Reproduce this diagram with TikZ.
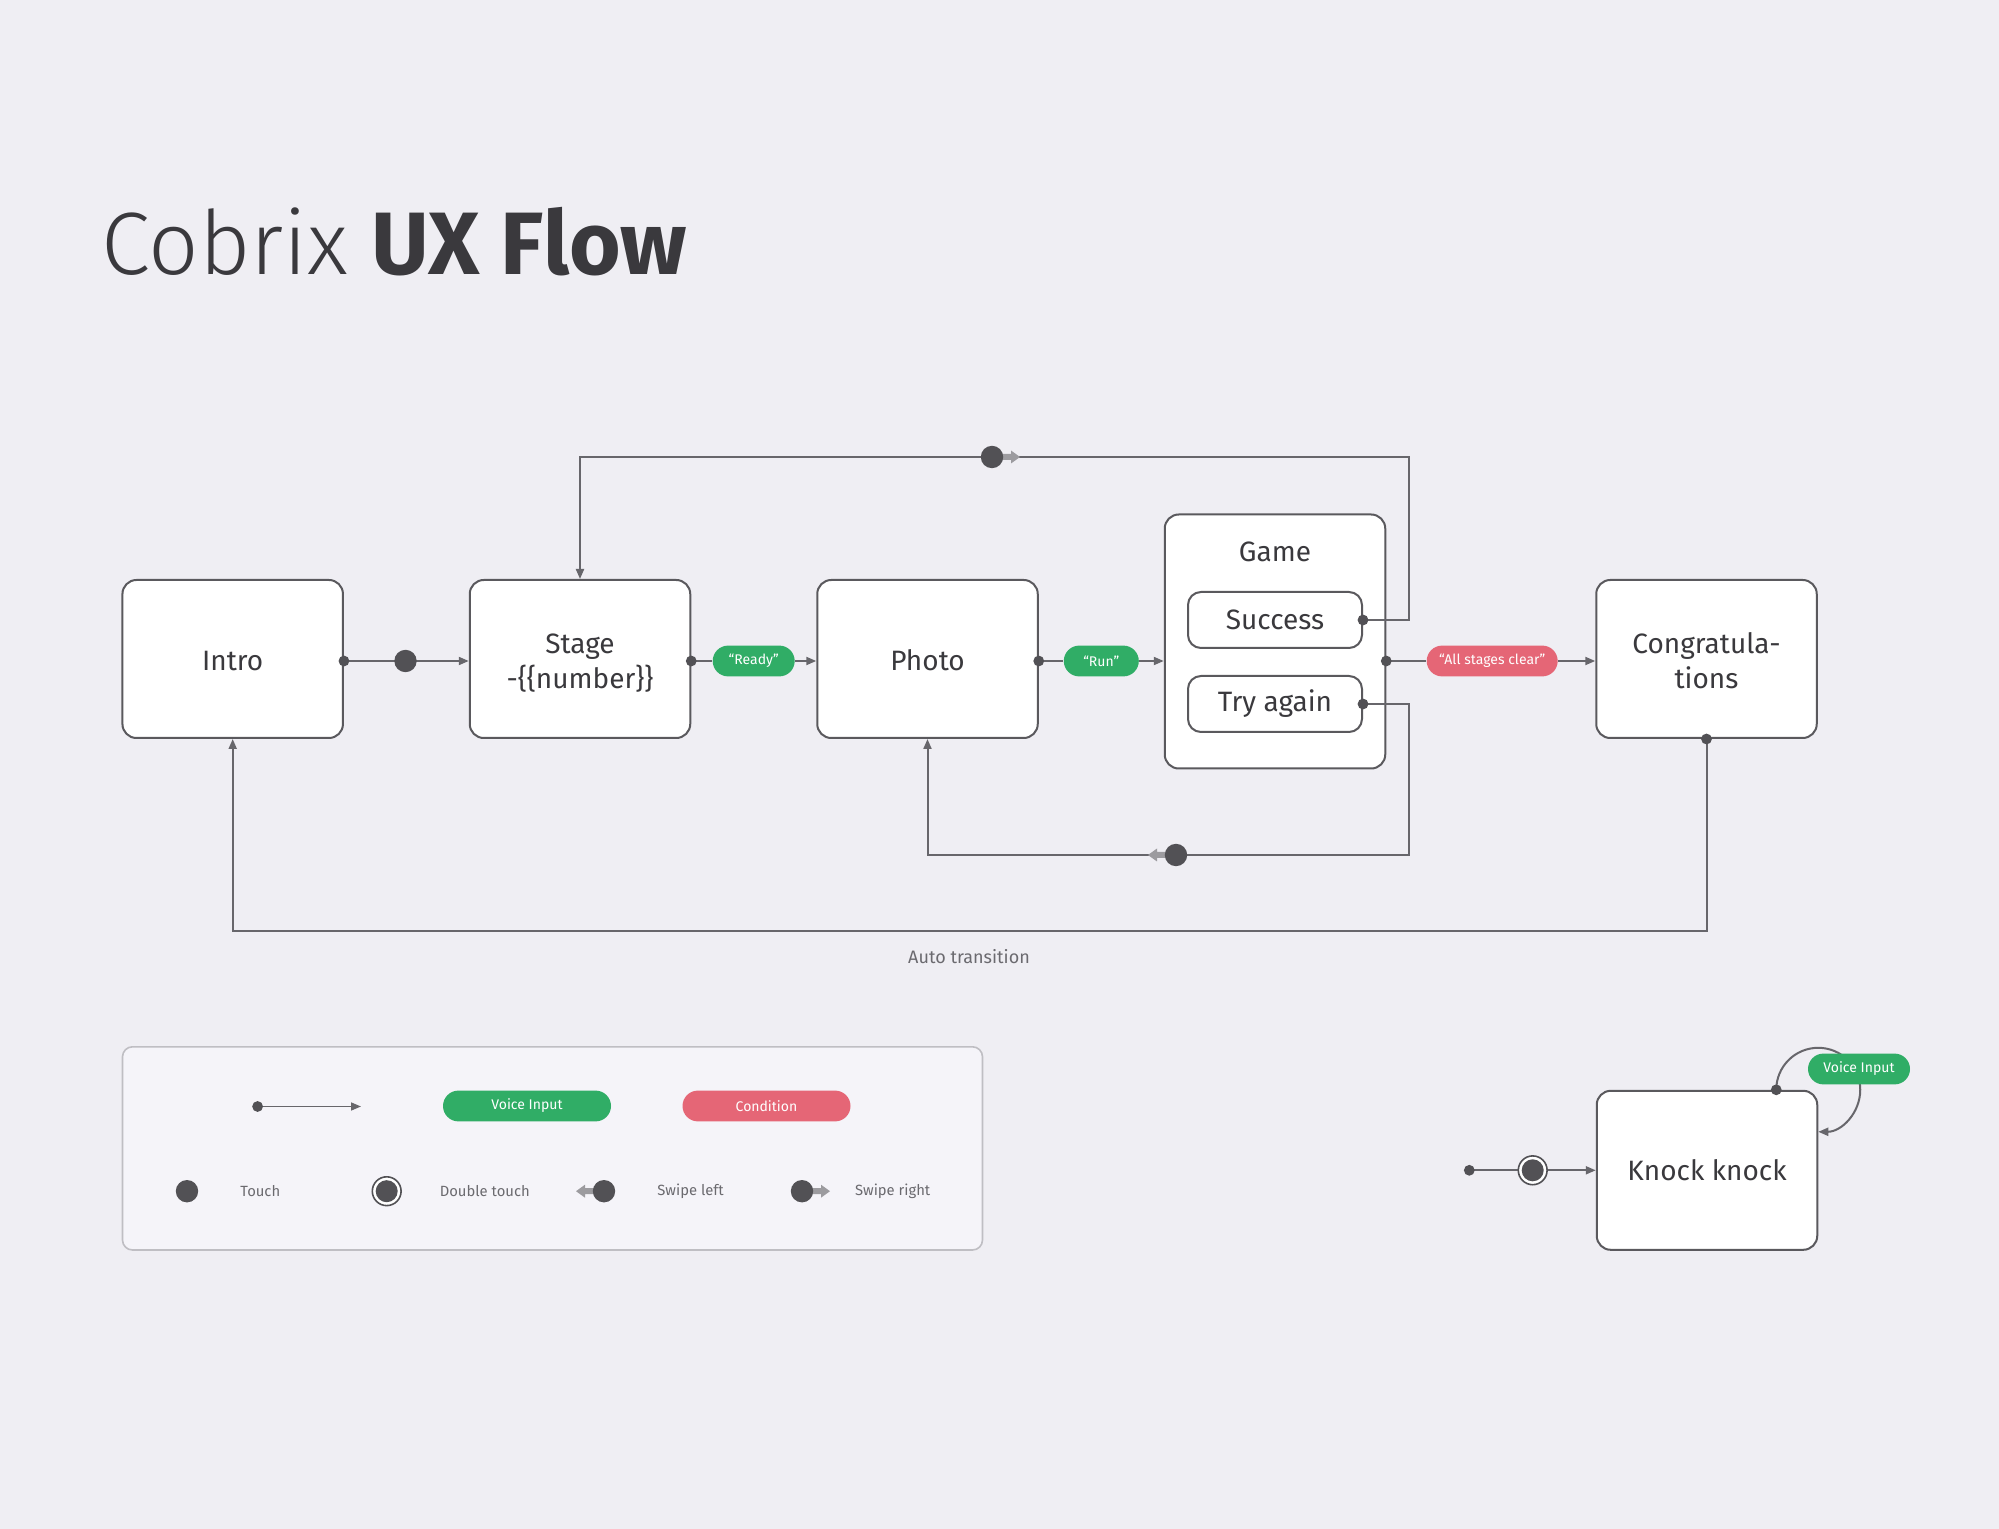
\documentclass[tikz,border=0pt]{standalone}
\usepackage{fontspec}
\setmainfont{Fira Sans}
\newfontfamily\lightfont{Fira Sans Light}
\usetikzlibrary{arrows.meta,calc}
\definecolor{bg}{HTML}{EFEEF3}
\definecolor{ink}{HTML}{3A393D}
\definecolor{edgec}{HTML}{5A595D}
\definecolor{linec}{HTML}{67666B}
\definecolor{dotc}{HTML}{525155}
\definecolor{vgreen}{HTML}{30AD66}
\definecolor{cred}{HTML}{E56676}
\definecolor{legbg}{HTML}{F5F4F9}
\definecolor{legedge}{HTML}{BFBEC3}
\definecolor{swipec}{HTML}{9C9B9F}
\definecolor{muted}{HTML}{6B6A6F}
\tikzset{
  statebox/.style={draw=edgec, line width=1pt, fill=white, rounded corners=7pt,
    minimum width=110.25pt, minimum height=79pt, inner sep=0pt},
  boxtext/.style={inner sep=0pt, align=center, text=ink, yshift=-2pt,
    font=\fontsize{14}{17.5}\selectfont},
  boxtextone/.style={boxtext, yshift=1.2pt},
  subbox/.style={draw=edgec, line width=1pt, fill=white, rounded corners=6.5pt,
    minimum width=87pt, minimum height=28pt, inner sep=0pt, text=ink,
    font=\fontsize{14}{17}\selectfont},
  pill/.style={rounded corners=7.7pt, minimum height=15.4pt, inner sep=0pt,
    text=white, font=\fontsize{7}{9}\selectfont},
  greenpill/.style={pill, fill=vgreen},
  redpill/.style={pill, fill=cred},
  wire/.style={draw=linec, line width=1pt},
  arr/.style={wire, -{Triangle[length=5pt,width=4pt]}},
  legtext/.style={anchor=west, inner sep=0pt, text=muted, font=\fontsize{7.4}{9}\selectfont},
}
\newcommand{\srcdot}[1]{\fill[dotc] (#1) circle[radius=2.7pt];}
\newcommand{\touchdot}[1]{\fill[dotc] (#1) circle[radius=5.6pt];}
\newcommand{\dbltouch}[1]{\filldraw[draw=dotc, fill=white, line width=0.8pt] (#1) circle[radius=7.2pt];
  \fill[dotc] (#1) circle[radius=5.5pt];}
\newcommand{\swiperight}[1]{\fill[swipec] ($(#1)+(0,-3)$) -- ($(#1)+(19,-3)$) -- ($(#1)+(19,-6.5)$) -- ($(#1)+(28,0)$)
  -- ($(#1)+(19,6.5)$) -- ($(#1)+(19,3)$) -- ($(#1)+(0,3)$) -- cycle; \fill[dotc] (#1) circle[radius=5.6pt];}
\newcommand{\swipeleft}[1]{\fill[swipec] ($(#1)+(0,-3)$) -- ($(#1)+(-19,-3)$) -- ($(#1)+(-19,-6.5)$) -- ($(#1)+(-28,0)$)
  -- ($(#1)+(-19,6.5)$) -- ($(#1)+(-19,3)$) -- ($(#1)+(0,3)$) -- cycle; \fill[dotc] (#1) circle[radius=5.6pt];}
\begin{document}
\begin{tikzpicture}[x=0.5pt,y=-0.5pt]
\fill[bg] (0,0) rectangle (1999,1529);
\useasboundingbox (0,0) rectangle (1999,1529);

% title
\node[anchor=base west, inner sep=0pt, text=ink] (title) at (101,275)
  {\fontsize{44.3}{50}\selectfont{\lightfont Cobrix} \textbf{UX Flow}};

% main states
\node[statebox, label={[boxtextone]center:Intro}] (intro) at (232.7,659) {};
\node[statebox, label={[boxtext]center:Stage\\-\{\{number\}\}}] (stage) at (580,659) {};
\node[statebox, label={[boxtextone]center:Photo}] (photo) at (927.5,659) {};
\node[statebox, minimum height=127pt] (game) at (1275,641.5) {};
\node[inner sep=0pt, text=ink, font=\fontsize{14}{17}\selectfont] (gamelbl) at (1275,552) {Game};
\node[subbox] (succ) at (1275,620) {Success};
\node[subbox] (try) at (1275,704) {Try again};
\node[statebox, label={[boxtext, yshift=1pt]center:Congratula-\\tions}] (congr) at (1706.5,659) {};

% pills on main line
\node[greenpill, minimum width=41pt] (ready) at (753.7,661) {\textquotedblleft Ready\textquotedblright};
\node[greenpill, minimum width=37.5pt] (run) at (1101.3,661) {\textquotedblleft Run\textquotedblright};
\node[redpill, minimum width=65.5pt] (clear) at (1492.2,661) {\textquotedblleft All stages clear\textquotedblright};

% main line connectors
\coordinate (tp1) at (405.5,661);
\draw[arr] (intro.east |- tp1) -- (stage.west |- tp1);
\srcdot{intro.east |- tp1}
\touchdot{tp1}

\draw[wire] (stage.east |- ready) -- (ready.west);
\draw[arr] (ready.east) -- (photo.west |- ready);
\srcdot{stage.east |- ready}

\draw[wire] (photo.east |- run) -- (run.west);
\draw[arr] (run.east) -- (game.west |- run);
\srcdot{photo.east |- run}

\draw[wire] (game.east |- clear) -- (clear.west);
\draw[arr] (clear.east) -- (congr.west |- clear);
\srcdot{game.east |- clear}

% top loop (success -> stage)
\coordinate (topright) at (1409,457);
\coordinate (swr) at (992,457);
\draw[arr] (succ.east) -| (topright) -| (stage.north);
\srcdot{succ.east}
\swiperight{swr}

% bottom loop (try again -> photo)
\coordinate (botright) at (1409,855);
\coordinate (swl) at (1176,855);
\draw[arr] (try.east) -| (botright) -| (photo.south);
\srcdot{try.east}
\swipeleft{swl}

% auto transition
\coordinate (autoleft) at (232.7,931);
\draw[arr] (congr.south) |- (autoleft) -- (intro.south);
\srcdot{congr.south}
\node[inner sep=0pt, text=muted, font=\fontsize{9}{11}\selectfont] (autolbl) at (969,957) {Auto transition};

% legend
\node[draw=legedge, fill=legbg, line width=0.8pt, rounded corners=5pt,
  minimum width=430pt, minimum height=101.6pt, inner sep=0pt] (legend) at (552.5,1148.4) {};
\coordinate (la) at (257.6,1106.5);
\coordinate (lb) at (361,1106.5);
\draw[wire, line width=0.8pt, -{Triangle[length=5pt,width=4pt]}] (la) -- (lb);
\srcdot{la}
\node[greenpill, minimum width=84pt] (lvoice) at (527,1106) {Voice Input};
\node[redpill, minimum width=84pt] (lcond) at (766.5,1106) {Condition};

\coordinate (ltouch) at (187,1191.2);
\touchdot{ltouch}
\node[legtext] (ltouchl) at (240,1191.2) {Touch};
\coordinate (ldbl) at (386.7,1191.2);
\dbltouch{ldbl}
\node[legtext] (ldbll) at (439.4,1191.2) {Double touch};
\coordinate (lswl) at (604,1191.2);
\swipeleft{lswl}
\node[legtext] (lswll) at (657,1191.2) {Swipe left};
\coordinate (lswr) at (802,1191.2);
\swiperight{lswr}
\node[legtext] (lswrl) at (854.7,1191.2) {Swipe right};

% knock knock
\node[statebox, minimum height=79.5pt, label={[boxtextone, yshift=1pt]center:Knock knock}] (knock) at (1707,1170.3) {};
\coordinate (kstart) at (1469.3,1170.3);
\coordinate (kdbl) at (1532.7,1170.3);
\draw[arr] (kstart) -- (knock.west);
\srcdot{kstart}
\dbltouch{kdbl}
\coordinate (kloop) at ($(knock.north east)+(-42,0)$);
\draw[arr] (kloop) arc[start angle=180, end angle=-90, radius=21pt];
\srcdot{kloop}
\node[greenpill, minimum width=51pt] (kvoice) at (1859,1069) {Voice Input};
\end{tikzpicture}
\end{document}
